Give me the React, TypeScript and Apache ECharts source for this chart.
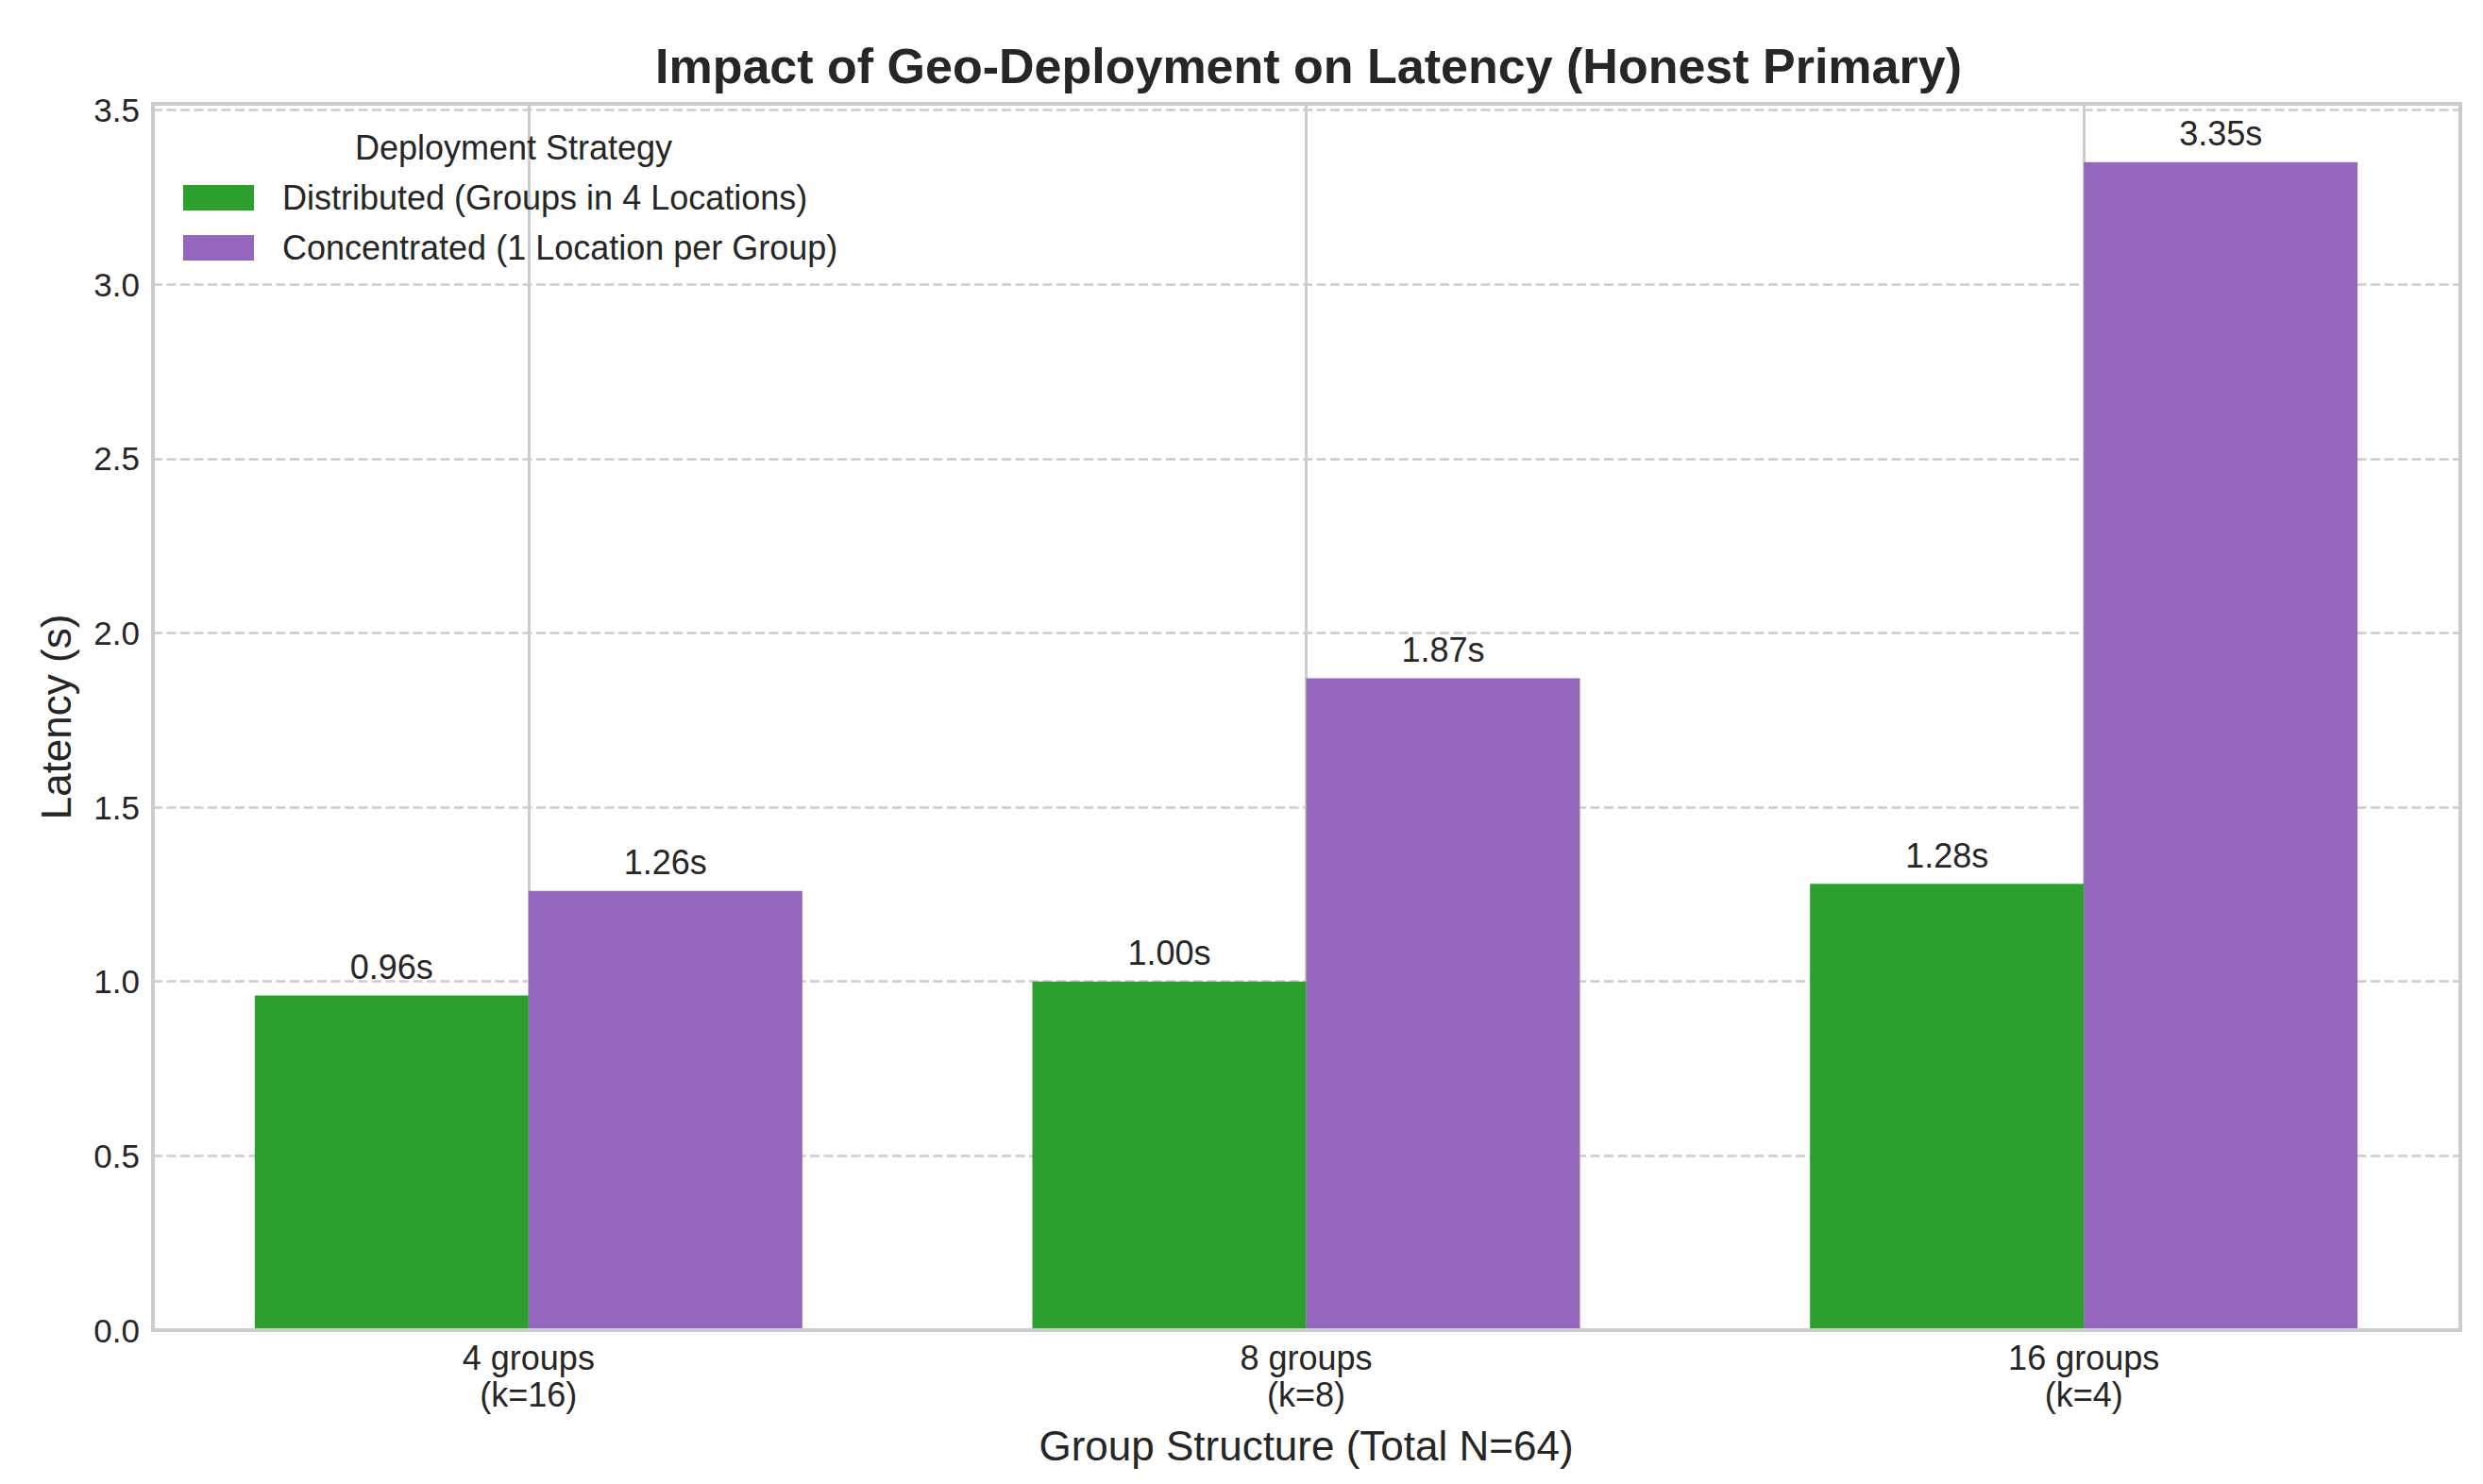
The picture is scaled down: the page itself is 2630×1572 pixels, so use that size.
import { useEffect, useRef } from "react";
import * as echarts from "echarts";

// x categories (group structure)
const categories = ["4 groups\n(k=16)", "8 groups\n(k=8)", "16 groups\n(k=4)"];
// latency in seconds
const distributed = [0.96, 1.0, 1.28];
const concentrated = [1.26, 1.87, 3.35];
const seriesNames = ["Distributed (Groups in 4 Locations)", "Concentrated (1 Location per Group)"];

const yMax = 3.5175; // 3.35 * 1.05
const yStep = 0.5;

const FONT = "'Liberation Sans', Arial, Helvetica, sans-serif";
const TEXT = "#262626";
const GRID = "#cccccc";

export default function App() {
  const ref = useRef<HTMLDivElement | null>(null);

  useEffect(() => {
    if (!ref.current) return;
    const chart = echarts.init(ref.current, undefined, { renderer: "svg" });

    const barLabel = {
      show: true,
      position: "top",
      distance: 12,
      fontSize: 36,
      fontFamily: FONT,
      color: TEXT,
      formatter: (p: any) => `${Number(p.value).toFixed(2)}s`,
    };

    chart.setOption({
      animation: false,
      backgroundColor: "#ffffff",
      textStyle: { fontFamily: FONT, color: TEXT },
      graphic: [
        {
          type: "text",
          x: 1386,
          y: 70,
          style: {
            text: "Impact of Geo-Deployment on Latency (Honest Primary)",
            font: `bold 52px ${FONT}`,
            fill: TEXT,
            align: "center",
            verticalAlign: "middle",
          },
        },
        {
          type: "text",
          x: 544,
          y: 156,
          z: 20,
          style: {
            text: "Deployment Strategy",
            font: `36px ${FONT}`,
            fill: TEXT,
            align: "center",
            verticalAlign: "middle",
          },
        },
      ],
      legend: {
        orient: "vertical",
        left: 194,
        top: 191.5,
        padding: 0,
        itemWidth: 75,
        itemHeight: 27,
        itemGap: 17,
        icon: "rect",
        selectedMode: false,
        data: seriesNames,
        textStyle: {
          fontSize: 36,
          fontFamily: FONT,
          color: TEXT,
          lineHeight: 36,
          padding: [0, 0, 0, 25],
        },
      },
      grid: [
        // frame + horizontal grid
        {
          left: 162,
          right: 24,
          top: 110,
          bottom: 163,
          show: true,
          borderColor: GRID,
          borderWidth: 4,
          backgroundColor: "transparent",
          outerBoundsMode: "none",
        },
        // bars laid out on matplotlib-like x limits
        {
          left: 148,
          right: 11,
          top: 110,
          bottom: 163,
          outerBoundsMode: "none",
        },
      ],
      xAxis: [
        {
          type: "value",
          gridIndex: 0,
          min: 0,
          max: 1,
          z: 10,
          axisLine: { show: true, lineStyle: { color: GRID, width: 4 } },
          axisTick: { show: false },
          axisLabel: { show: false },
          splitLine: { show: false },
        },
        {
          type: "category",
          gridIndex: 1,
          data: categories,
          axisLine: { show: false },
          axisTick: { show: false },
          axisLabel: {
            interval: 0,
            fontSize: 36,
            lineHeight: 39,
            margin: 10,
            color: TEXT,
            fontFamily: FONT,
          },
          splitLine: {
            show: true,
            alignWithLabel: true,
            lineStyle: { color: GRID, width: 3, type: "solid" },
          },
          name: "Group Structure (Total N=64)",
          nameLocation: "middle",
          nameGap: 122,
          nameTextStyle: {
            fontSize: 44,
            color: TEXT,
            fontFamily: FONT,
            align: "center",
            verticalAlign: "middle",
          },
        },
      ],
      yAxis: [
        {
          type: "value",
          gridIndex: 0,
          min: 0,
          max: yMax,
          interval: yStep,
          axisLine: { show: false },
          axisTick: { show: false },
          axisLabel: {
            fontSize: 35,
            margin: 14,
            color: TEXT,
            fontFamily: FONT,
            showMaxLabel: false,
            formatter: (v: number) =>
              Math.abs(v / yStep - Math.round(v / yStep)) < 1e-6 ? v.toFixed(1) : "",
          },
          splitLine: {
            show: true,
            lineStyle: { color: GRID, width: 2.5, type: [10, 4.5] },
          },
          name: "Latency (s)",
          nameLocation: "middle",
          nameGap: 103,
          nameRotate: 90,
          nameTextStyle: {
            fontSize: 44,
            color: TEXT,
            fontFamily: FONT,
            align: "center",
            verticalAlign: "middle",
          },
        },
        {
          type: "value",
          gridIndex: 1,
          min: 0,
          max: yMax,
          interval: yStep,
          show: false,
        },
      ],
      series: [
        {
          name: seriesNames[0],
          type: "bar",
          xAxisIndex: 1,
          yAxisIndex: 1,
          data: distributed,
          barWidth: 290,
          barGap: "0%",
          itemStyle: { color: "#2ca02c" },
          label: barLabel,
        },
        {
          name: seriesNames[1],
          type: "bar",
          xAxisIndex: 1,
          yAxisIndex: 1,
          data: concentrated,
          barWidth: 290,
          barGap: "0%",
          itemStyle: { color: "#9467bd" },
          label: barLabel,
        },
      ],
    });

    return () => {
      chart.dispose();
    };
  }, []);

  return (
    <div
      ref={ref}
      style={{ position: "fixed", left: 0, top: 0, width: 2630, height: 1572, background: "#fff" }}
    />
  );
}
